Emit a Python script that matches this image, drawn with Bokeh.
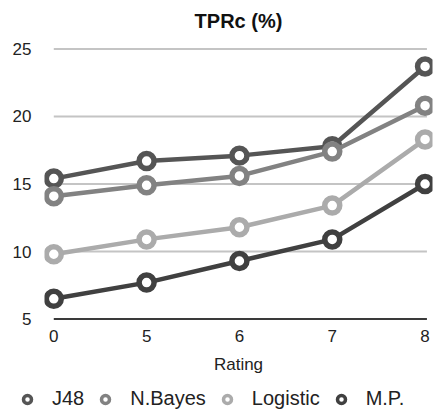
from bokeh.plotting import figure
from bokeh.layouts import column, row
from bokeh.models import FixedTicker, Legend, LegendItem, Range1d
from bokeh.embed import file_html
from bokeh.resources import INLINE

# Rating categories along the x axis
ratings = ["0", "5", "6", "7", "8"]

# TPRc (%) per classifier
j48 = [15.4, 16.7, 17.1, 17.8, 23.7]
nbayes = [14.1, 14.9, 15.6, 17.4, 20.8]
logistic = [9.8, 10.9, 11.8, 13.4, 18.3]
mp = [6.5, 7.7, 9.3, 10.9, 15.0]

series_names = ["J48", "N.Bayes", "Logistic", "M.P."]
y_ticks = [5, 10, 15, 20, 25]

FONT = "Liberation Sans"
colors = ["#555555", "#828282", "#ababab", "#404040"]
MARKER = dict(size=15, fill_color="white", line_width=5.5)

xs = list(range(len(ratings)))
series = [j48, nbayes, logistic, mp]

p = figure(width=437, height=378, output_backend="svg", toolbar_location=None,
           x_range=Range1d(-0.1, 4.08), y_range=Range1d(4.6, 25.4),
           min_border_left=44, min_border_right=5, min_border_top=43,
           min_border_bottom=54)
p.outline_line_color = None
p.xgrid.visible = False
p.ygrid.visible = False

p.title.text = "TPRc (%)"
p.title.align = "center"
p.title.vertical_align = "top"
p.title.text_font = FONT
p.title.text_font_size = "20px"
p.title.text_font_style = "bold"
p.title.text_color = "#111111"
p.title.standoff = 19

# horizontal guide lines across the rating span; the bottom one is the baseline
grid_colors = ["#3a3a3a" if t == y_ticks[0] else "#c4c4c4" for t in y_ticks]
p.segment(x0=[xs[0]] * len(y_ticks), x1=[xs[-1] + 0.02] * len(y_ticks),
          y0=y_ticks, y1=y_ticks, line_color=grid_colors, line_width=2)

# axes
p.yaxis.ticker = FixedTicker(ticks=y_ticks)
p.yaxis.axis_line_color = None
p.yaxis.major_tick_line_color = None
p.yaxis.minor_tick_line_color = None
p.yaxis.major_label_standoff = 7
p.yaxis.major_label_text_font = FONT
p.yaxis.major_label_text_font_size = "17px"
p.yaxis.major_label_text_color = "#222222"

p.xaxis.ticker = FixedTicker(ticks=xs)
p.xaxis.major_label_overrides = {i: r for i, r in zip(xs, ratings)}
p.xaxis.axis_line_color = None
p.xaxis.major_tick_line_color = None
p.xaxis.minor_tick_line_color = None
p.xaxis.major_label_standoff = -1
p.xaxis.major_label_text_font = FONT
p.xaxis.major_label_text_font_size = "17px"
p.xaxis.major_label_text_color = "#222222"
p.xaxis.axis_label = "Rating"
p.xaxis.axis_label_text_font = FONT
p.xaxis.axis_label_text_font_size = "17px"
p.xaxis.axis_label_text_font_style = "normal"
p.xaxis.axis_label_text_color = "#222222"
p.xaxis.axis_label_standoff = 10

for vals, col in zip(series, colors):
    p.line(xs, vals, line_color=col, line_width=4.5)
    p.scatter(xs, vals, line_color=col, **MARKER)

# legend strip under the chart: marker-only keys for each series
# (the series points sit outside this strip's visible range)
key = figure(width=437, height=40, output_backend="svg", toolbar_location=None,
             x_range=Range1d(-100, -99), y_range=Range1d(-100, -99),
             min_border=0, outline_line_color=None)
key.axis.visible = False
key.grid.visible = False

items = []
for name, vals, col in zip(series_names, series, colors):
    r = key.scatter(xs, vals, line_color=col, size=11, fill_color="white",
                    line_width=3.5)
    items.append(LegendItem(label=name, renderers=[r]))

legend = Legend(items=items, orientation="horizontal", location=(17, 8),
                glyph_width=20, glyph_height=20, label_standoff=15, spacing=11,
                padding=0, margin=0, border_line_color=None,
                background_fill_alpha=0,
                label_text_font=FONT, label_text_font_size="20px",
                label_text_color="#222222")
key.add_layout(legend)

open("out.html", "w").write(file_html(column(p, row(key), spacing=0), INLINE))
